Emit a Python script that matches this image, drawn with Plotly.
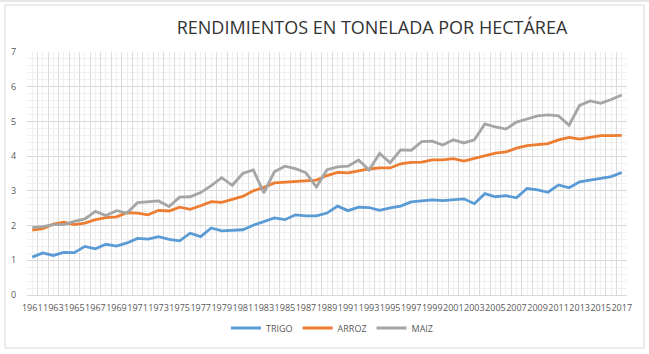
import plotly.graph_objects as go

years = list(range(1961, 2018))
trigo = [1.09, 1.21, 1.14, 1.23, 1.22, 1.40, 1.33, 1.46, 1.41, 1.50,
         1.63, 1.61, 1.68, 1.60, 1.56, 1.78, 1.68, 1.93, 1.85, 1.86,
         1.88, 2.01, 2.12, 2.22, 2.17, 2.31, 2.28, 2.28, 2.36, 2.56,
         2.43, 2.53, 2.52, 2.44, 2.51, 2.56, 2.68, 2.71, 2.74, 2.72,
         2.74, 2.77, 2.63, 2.92, 2.83, 2.86, 2.80, 3.07, 3.03, 2.96,
         3.17, 3.09, 3.26, 3.31, 3.35, 3.41, 3.53]
arroz = [1.87, 1.91, 2.04, 2.10, 2.03, 2.07, 2.17, 2.23, 2.25, 2.37,
         2.36, 2.31, 2.44, 2.42, 2.53, 2.47, 2.57, 2.69, 2.67, 2.75,
         2.84, 3.00, 3.10, 3.23, 3.25, 3.26, 3.27, 3.31, 3.44, 3.53,
         3.52, 3.58, 3.63, 3.66, 3.66, 3.78, 3.82, 3.83, 3.89, 3.89,
         3.93, 3.86, 3.94, 4.03, 4.09, 4.12, 4.23, 4.30, 4.34, 4.36,
         4.47, 4.54, 4.49, 4.54, 4.59, 4.59, 4.60]
maiz = [1.94, 1.97, 2.03, 2.03, 2.12, 2.19, 2.41, 2.29, 2.43, 2.36,
        2.66, 2.68, 2.71, 2.55, 2.82, 2.83, 2.95, 3.15, 3.38, 3.16,
        3.50, 3.60, 2.94, 3.55, 3.71, 3.64, 3.52, 3.11, 3.61, 3.69,
        3.71, 3.89, 3.60, 4.08, 3.81, 4.18, 4.17, 4.42, 4.43, 4.32,
        4.47, 4.38, 4.47, 4.93, 4.84, 4.78, 4.98, 5.07, 5.16, 5.19,
        5.16, 4.89, 5.46, 5.59, 5.52, 5.63, 5.76]
tick_years = [y for y in years if (y - 1961) % 2 == 0]
tick_labels = [str(y) for y in tick_years]

series = [("TRIGO", trigo, "#5B9BD5"), ("ARROZ", arroz, "#ED7D31"), ("MAIZ", maiz, "#A5A5A5")]

FONT = "Liberation Sans Narrow, Open Sans, sans-serif"
W, H = 649, 354
L, R, T, B = 27, 22, 52, 59
pw, ph = W - L - R, H - T - B

fig = go.Figure()
for name, vals, col in series:
    fig.add_trace(go.Scatter(x=years, y=vals, mode="lines", name=name,
                             line=dict(color=col, width=2.8)))

# invisible overlay axis used only for darker category-boundary gridlines
fig.add_trace(go.Scatter(x=[years[0]], y=[0], xaxis="x2", mode="markers",
                         marker=dict(opacity=0), showlegend=False, hoverinfo="skip"))

def px2paper_x(px):
    return (px - L) / pw

def px2paper_y(py):
    return (H - B - py) / ph

fig.update_layout(
    width=W, height=H,
    margin=dict(l=L, r=R, t=T, b=B),
    paper_bgcolor="white", plot_bgcolor="white",
    font=dict(family=FONT, size=9, color="#595959"),
    title=dict(text="RENDIMIENTOS EN TONELADA POR HECTÁREA",
               x=372 / W, xanchor="center", y=1 - 28 / H, yanchor="middle",
               font=dict(family=FONT, size=18, color="#333333")),
    xaxis=dict(range=[1960.5, 2017.5], tickmode="array", tickvals=tick_years,
               ticktext=tick_labels, showgrid=False, zeroline=False,
               ticks="outside", ticklen=4, tickcolor="rgba(0,0,0,0)",
               tickangle=0, showline=True, linecolor="#d9d9d9", linewidth=1,
               tickfont=dict(size=9, color="#595959"),
               minor=dict(tick0=1961, dtick=1, showgrid=True,
                          gridcolor="#efefef", gridwidth=1)),
    xaxis2=dict(range=[1960.5, 2017.5], overlaying="x", tick0=1960.5, dtick=1,
                showgrid=True, gridcolor="#dcdcdc", gridwidth=1,
                showticklabels=False, zeroline=False, ticks=""),
    yaxis=dict(range=[0, 7], tick0=0, dtick=1, showgrid=True, gridcolor="#d9d9d9",
               gridwidth=1, zeroline=False, ticks="outside", ticklen=8,
               tickcolor="rgba(0,0,0,0)", tickfont=dict(size=9, color="#595959"),
               minor=dict(dtick=0.2, showgrid=True, gridcolor="#f0f0f0", gridwidth=1)),
    legend=dict(orientation="h", x=px2paper_x(332), xanchor="center",
                y=px2paper_y(328), yanchor="middle",
                font=dict(size=9, color="#595959"), itemwidth=30,
                bgcolor="rgba(0,0,0,0)"),
    showlegend=True,
    shapes=[
        dict(type="rect", xref="paper", yref="paper",
             x0=px2paper_x(5), x1=px2paper_x(644), y0=px2paper_y(348), y1=px2paper_y(5),
             line=dict(color="#d9d9d9", width=1), fillcolor="rgba(0,0,0,0)", layer="below"),
        dict(type="rect", xref="paper", yref="paper",
             x0=px2paper_x(0), x1=px2paper_x(W), y0=px2paper_y(2), y1=px2paper_y(0),
             line=dict(width=0), fillcolor="#e6e6e6", layer="below"),
    ],
)

fig.write_html("out.html")
